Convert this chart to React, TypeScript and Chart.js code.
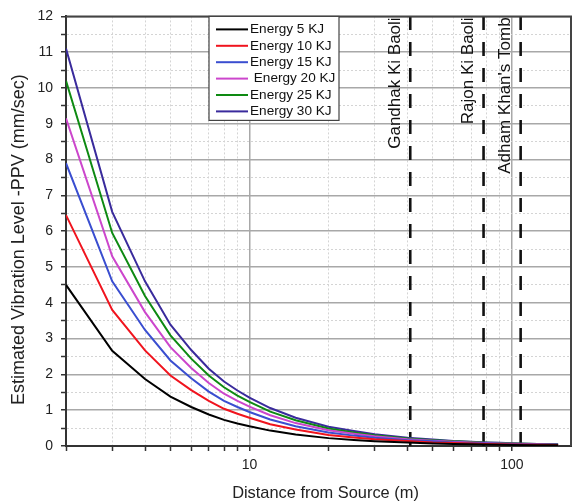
import React, { useEffect, useRef } from "react";
import { Chart, registerables } from "chart.js";

Chart.register(...registerables);

// ---- data ----
const distances = [2, 3, 4, 5, 6, 7, 8, 9, 10, 12, 15, 20, 25, 30, 40, 50, 60, 70, 80, 90, 100, 125, 150];
const energy5 = [4.5, 2.66, 1.87, 1.38, 1.09, 0.88, 0.73, 0.63, 0.55, 0.43, 0.32, 0.22, 0.17, 0.135, 0.095, 0.073, 0.058, 0.048, 0.041, 0.036, 0.031, 0.024, 0.019];
const energy10 = [6.45, 3.8, 2.67, 1.97, 1.56, 1.26, 1.04, 0.9, 0.79, 0.61, 0.46, 0.31, 0.24, 0.19, 0.14, 0.1, 0.083, 0.069, 0.059, 0.051, 0.044, 0.034, 0.027];
const energy15 = [7.9, 4.6, 3.24, 2.39, 1.89, 1.52, 1.26, 1.09, 0.95, 0.74, 0.55, 0.38, 0.29, 0.23, 0.16, 0.13, 0.1, 0.083, 0.071, 0.062, 0.054, 0.042, 0.033];
const energy20 = [9.15, 5.3, 3.74, 2.76, 2.18, 1.76, 1.46, 1.26, 1.1, 0.86, 0.64, 0.44, 0.34, 0.27, 0.19, 0.15, 0.12, 0.096, 0.082, 0.072, 0.062, 0.048, 0.038];
const energy25 = [10.2, 5.95, 4.19, 3.09, 2.44, 1.97, 1.64, 1.41, 1.23, 0.96, 0.72, 0.49, 0.38, 0.3, 0.21, 0.16, 0.13, 0.11, 0.092, 0.081, 0.069, 0.054, 0.043];
const energy30 = [11.1, 6.54, 4.6, 3.39, 2.68, 2.16, 1.8, 1.55, 1.35, 1.06, 0.79, 0.54, 0.42, 0.33, 0.23, 0.18, 0.14, 0.12, 0.1, 0.089, 0.076, 0.059, 0.047];

const seriesLabels = ["Energy 5 KJ", "Energy 10 KJ", "Energy 15 KJ", " Energy 20 KJ", "Energy 25 KJ", "Energy 30 KJ"];
const seriesValues = [energy5, energy10, energy15, energy20, energy25, energy30];
const seriesColors = ["#000000", "#f0141e", "#3a4ed0", "#cc46cc", "#0e8a12", "#3a2b9c"];

const siteNames = ["Gandhak Ki Baoli", "Rajon Ki Baoli", "Adham Khan's Tomb"];
const siteDistances = [41, 78, 108];

const xTickValues = [2, 3, 4, 5, 6, 7, 8, 9, 10, 20, 30, 40, 50, 60, 70, 80, 90, 100];
const xLabelValues = [10, 100];
const xMin = 2;
const xMax = 168;
const yMin = 0;
const yMax = 12;
const yStep = 0.5;

const xTitle = "Distance from Source (m)";
const yTitle = "Estimated Vibration Level -PPV (mm/sec)";

const FONT = "'Liberation Sans', Arial, Helvetica, sans-serif";

export default function App() {
  const ref = useRef<HTMLCanvasElement | null>(null);

  useEffect(() => {
    document.body.style.margin = "0";
    const canvas = ref.current;
    if (!canvas) return;

    const lineSets = seriesValues.map((vals, i) => ({
      label: seriesLabels[i],
      data: distances.map((d, j) => ({ x: d, y: vals[j] })),
      borderColor: seriesColors[i],
      backgroundColor: seriesColors[i],
      borderWidth: 2,
      pointRadius: 0,
      tension: 0,
      fill: false,
      isSeries: true,
    }));

    const siteSets = siteDistances.map((d, i) => ({
      label: siteNames[i],
      data: [
        { x: d, y: yMin },
        { x: d, y: yMax },
      ],
      borderColor: "#111111",
      borderWidth: 2.6,
      borderDash: [14, 12],
      pointRadius: 0,
      fill: false,
      isSeries: false,
    }));

    const frame = {
      id: "frame",
      afterDatasetsDraw(chart: any) {
        const { ctx, chartArea } = chart;
        ctx.save();
        ctx.strokeStyle = "#444";
        ctx.lineWidth = 2;
        ctx.beginPath();
        ctx.moveTo(chartArea.left, chartArea.top);
        ctx.lineTo(chartArea.right, chartArea.top);
        ctx.lineTo(chartArea.right, chartArea.bottom);
        ctx.stroke();
        ctx.restore();
      },
    };

    const titles = {
      id: "titles",
      afterDraw(chart: any) {
        const { ctx, chartArea } = chart;
        ctx.save();
        ctx.fillStyle = "#222";
        ctx.textAlign = "center";
        ctx.textBaseline = "middle";
        ctx.font = `16.4px ${FONT}`;
        ctx.fillText(xTitle, (chartArea.left + chartArea.right) / 2 + 7, 493);
        ctx.font = `18px ${FONT}`;
        ctx.translate(19, (chartArea.top + chartArea.bottom) / 2 + 8.5);
        ctx.rotate(-Math.PI / 2);
        ctx.fillText(yTitle, 0, 0);
        ctx.restore();
      },
    };

    const siteText = {
      id: "siteText",
      afterDatasetsDraw(chart: any) {
        const { ctx, chartArea } = chart;
        const xs = chart.scales.x;
        ctx.save();
        ctx.fillStyle = "#111";
        ctx.font = `17px ${FONT}`;
        siteDistances.forEach((d, i) => {
          const px = xs.getPixelForValue(d) - 15;
          ctx.save();
          ctx.translate(px, chartArea.top + 1);
          ctx.rotate(-Math.PI / 2);
          ctx.textAlign = "right";
          ctx.textBaseline = "middle";
          ctx.fillText(siteNames[i], 0, 0);
          ctx.restore();
        });
        ctx.restore();
      },
    };

    const boxLegend = {
      id: "boxLegend",
      afterDatasetsDraw(chart: any) {
        const { ctx, chartArea } = chart;
        const sets = chart.data.datasets.filter((ds: any) => ds.isSeries);
        const left = chartArea.left + 143;
        const top = chartArea.top;
        const w = 130;
        const rowH = 16.4;
        const h = 104;
        ctx.save();
        ctx.fillStyle = "#fff";
        ctx.fillRect(left, top, w, h);
        ctx.strokeStyle = "#444";
        ctx.lineWidth = 1.2;
        ctx.strokeRect(left, top, w, h);
        ctx.font = `13.6px ${FONT}`;
        ctx.textBaseline = "middle";
        ctx.textAlign = "left";
        sets.forEach((ds: any, i: number) => {
          const y = top + 13 + i * rowH;
          ctx.strokeStyle = ds.borderColor;
          ctx.lineWidth = 2;
          ctx.beginPath();
          ctx.moveTo(left + 7, y);
          ctx.lineTo(left + 39, y);
          ctx.stroke();
          ctx.fillStyle = "#111";
          ctx.fillText(ds.label, left + 41, y);
        });
        ctx.restore();
      },
    };

    const isInt = (v: number) => Math.abs(v - Math.round(v)) < 1e-9;

    const chart = new Chart(canvas, {
      type: "line",
      data: { datasets: [...lineSets, ...siteSets] as any },
      options: {
        animation: false,
        responsive: false,
        maintainAspectRatio: false,
        layout: { padding: { top: 13, right: 5, left: 0, bottom: 0 } },
        plugins: {
          legend: { display: false },
          tooltip: { enabled: false },
        },
        scales: {
          x: {
            type: "logarithmic",
            min: xMin,
            max: xMax,
            afterBuildTicks: (scale: any) => {
              scale.ticks = xTickValues.map((v) => ({ value: v }));
            },
            afterFit: (scale: any) => {
              scale.height = 56;
            },
            ticks: {
              autoSkip: false,
              maxRotation: 0,
              padding: 6,
              color: "#222",
              font: { family: FONT, size: 14 },
              callback: (v: any) => (xLabelValues.includes(Number(v)) ? String(v) : ""),
            },
            grid: {
              color: (c: any) => (c.tick && xLabelValues.includes(c.tick.value) ? "#a8a8a8" : "#d4d4d4"),
              lineWidth: (c: any) => (c.tick && xLabelValues.includes(c.tick.value) ? 1.5 : 1),
              tickColor: "#333",
              tickLength: 5,
              tickWidth: 1.5,
            },
            border: {
              color: "#333",
              width: 2,
              dash: (c: any) => (c.tick && !xLabelValues.includes(c.tick.value) ? [2, 2] : []),
            },
            title: { display: false },
          },
          y: {
            type: "linear",
            min: yMin,
            max: yMax,
            afterFit: (scale: any) => {
              scale.width = 66;
            },
            ticks: {
              stepSize: yStep,
              autoSkip: false,
              padding: 8,
              color: "#222",
              font: { family: FONT, size: 14 },
              callback: (v: any) => (isInt(Number(v)) ? String(v) : ""),
            },
            grid: {
              color: (c: any) => (c.tick && isInt(c.tick.value) ? "#a8a8a8" : "#d4d4d4"),
              lineWidth: (c: any) => (c.tick && isInt(c.tick.value) ? 1.5 : 1),
              tickColor: "#333",
              tickLength: 5,
              tickWidth: 1.5,
            },
            border: {
              color: "#333",
              width: 2,
              dash: (c: any) => (c.tick && !isInt(c.tick.value) ? [2, 2] : []),
            },
            title: { display: false },
          },
        },
      },
      plugins: [frame, siteText, boxLegend, titles],
    });

    return () => chart.destroy();
  }, []);

  return (
    <div style={{ width: 576, height: 502 }}>
      <canvas ref={ref} width={576} height={502} style={{ display: "block" }} />
    </div>
  );
}
